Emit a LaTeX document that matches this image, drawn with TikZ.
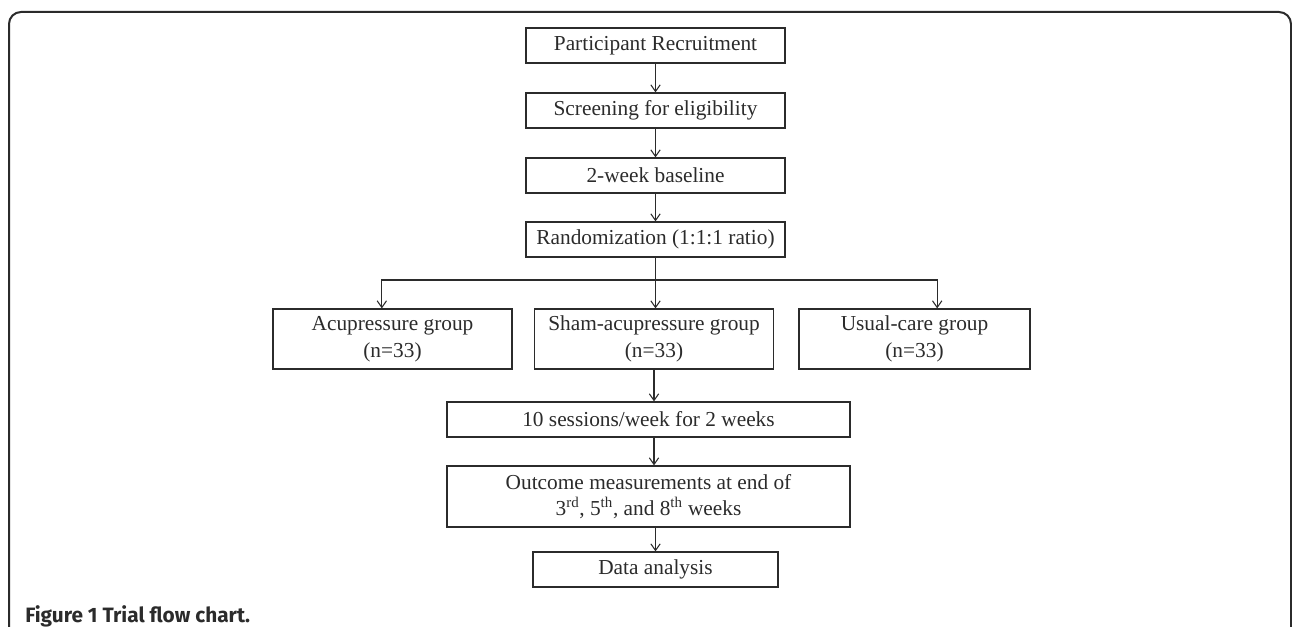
\documentclass[tikz,border=0pt]{standalone}
\usepackage{fontspec}
\setmainfont{Liberation Serif}
\newfontfamily\capfont{Fira Sans}
\usetikzlibrary{arrows.meta}
\definecolor{inkgray}{HTML}{2B2B2B}
\begin{document}
\begin{tikzpicture}[x=0.75pt,y=-0.75pt,
    box/.style={draw=inkgray,line width=0.9pt,text=inkgray,inner sep=0pt,
      font=\fontsize{16}{20}\selectfont,align=center},
    arr/.style={draw=inkgray,line width=0.8pt,-{Straight Barb[length=5pt,width=7pt]}}]
  \useasboundingbox (0,0) rectangle (1292,627);
  \begin{scope}
    \clip (0,0) rectangle (1292,627);
    \draw[inkgray,line width=1.5pt,rounded corners=9pt] (9,650)--(9,12)--(1291,12)--(1291,650);
  \end{scope}

  \node[box,minimum width=259*0.75pt,minimum height=35*0.75pt] (rec) at (655.5,45.5) {Participant Recruitment};
  \node[box,minimum width=259*0.75pt,minimum height=35*0.75pt] (scr) at (655.5,110.5) {Screening for eligibility};
  \node[box,minimum width=259*0.75pt,minimum height=35*0.75pt] (base) at (655.5,175.5) {2-week baseline};
  \node[box,minimum width=259*0.75pt,minimum height=35*0.75pt] (rand) at (655.5,239.5) {Randomization (1:1:1 ratio)};

  \node[box,minimum width=239*0.75pt,minimum height=60*0.75pt] (acu) at (392.5,339) {Acupressure group\\(n=33)};
  \node[box,minimum width=239*0.75pt,minimum height=60*0.75pt] (sham) at (654,339) {Sham-acupressure group\\(n=33)};
  \node[box,minimum width=231*0.75pt,minimum height=60*0.75pt] (usual) at (914.5,339) {Usual-care group\\(n=33)};

  \node[box,minimum width=403*0.75pt,minimum height=35*0.75pt] (sess) at (648.5,419.5) {10 sessions/week for 2 weeks};
  \node[box,minimum width=403*0.75pt,minimum height=61*0.75pt] (outc) at (648.5,496.5) {Outcome measurements at end of\\3\textsuperscript{rd}, 5\textsuperscript{th}, and 8\textsuperscript{th} weeks};
  \node[box,minimum width=245*0.75pt,minimum height=35*0.75pt] (data) at (655.5,569.5) {Data analysis};

  \coordinate (split) at (655.5,280);

  \draw[arr] (rec) -- (scr);
  \draw[arr] (scr) -- (base);
  \draw[arr] (base) -- (rand);
  \draw[arr] (rand.south) -- (rand.south |- sham.north);
  \draw[arr] (split) -| ([xshift=-8pt]acu.north);
  \draw[arr] (split) -| ([xshift=17pt]usual.north);
  \draw[arr] (sham.south) -- (sham.south |- sess.north);
  \draw[arr] (sess.south -| sham.south) -- (sham.south |- outc.north);
  \draw[arr] (outc.south -| data.north) -- (data.north);

  \node[anchor=base west,inner sep=0pt,text=inkgray,font=\capfont\bfseries\fontsize{15.6}{18}\selectfont] (cap) at (25,622) {Figure 1 Trial flow chart.};
\end{tikzpicture}
\end{document}
